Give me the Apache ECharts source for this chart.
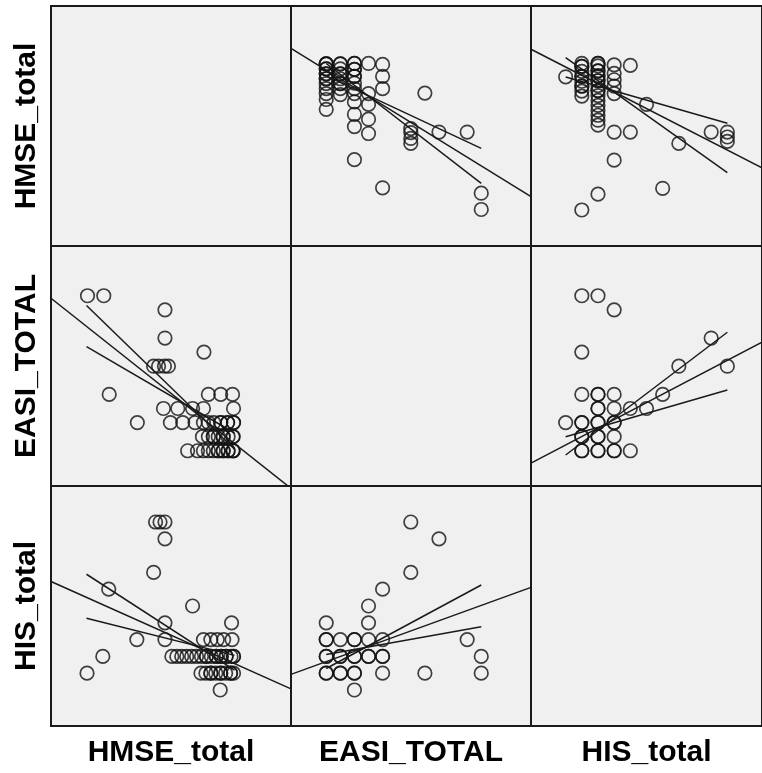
<!DOCTYPE html>
<html>
<head>
<meta charset="utf-8">
<script src="https://cdn.jsdelivr.net/npm/echarts@6/dist/echarts.min.js"></script>
<style>
html,body{margin:0;padding:0;background:#fff;}
#chart{width:762px;height:773px;}
</style>
</head>
<body>
<div id="chart"></div>
<script>
// Variable names (row / column labels)
const variables = ['HMSE_total', 'EASI_TOTAL', 'HIS_total'];
// Axis extents for each variable (no ticks shown)
const axisMin = [-7.2, -2.5, -2.143];
const axisMax = [41.45, 14.53, 12.143];

// Pair data: [HMSE_total, EASI_TOTAL]
const pairsHmseEasi = [
  [20.5,0],[22.5,0],[23.7,0],[24.7,0],[25.7,0],[26.7,0],[26.7,0],[27.7,0],[27.7,0],[28.7,0],[28.7,0],[29.7,0],[29.7,0],[29.7,0],
  [23.5,1],[24.7,1],[25.7,1],[25.7,1],[26.7,1],[27.7,1],[27.7,1],[28.7,1],[29.7,1],[29.7,1],
  [10.3,2],[17,2],[19.5,2],[22,2],[23.7,2],[24.7,2],[25.8,2],[27.2,2],[27.2,2],[28.6,2],[28.6,2],[29.8,2],[29.8,2],
  [15.6,3],[18.5,3],[21.5,3],[23.7,3],[29.8,3],
  [4.6,4],[24.7,4],[27.2,4],[29.6,4],
  [13.6,6],[14.6,6],[15.8,6],[16.6,6],
  [23.8,7],
  [15.9,8],
  [15.9,10],
  [0.2,11],[3.5,11]
];
// Pair data: [HMSE_total, HIS_total]
const pairsHmseHis = [
  [27.1,0],
  [0.1,1],[23.2,1],[24.2,1],[25.2,1],[25.2,1],[26.2,1],[27.2,1],[27.2,1],[28.2,1],[29.2,1],[29.2,1],[29.8,1],
  [3.3,2],[17.3,2],[18.3,2],[19.3,2],[20.3,2],[21.3,2],[22.3,2],[23.3,2],[24.3,2],[24.3,2],[25.3,2],[26.3,2],[26.3,2],[27.3,2],[27.3,2],[28.3,2],[28.3,2],[29.3,2],[29.8,2],[29.8,2],
  [10.2,3],[15.9,3],[23.7,3],[25.2,3],[26.5,3],[27.8,3],[29.5,3],
  [15.9,4],[29.4,4],
  [21.5,5],
  [4.5,6],
  [13.6,7],
  [15.9,9],
  [14,10],[14.9,10],[15.9,10]
];
// Pair data: [EASI_TOTAL, HIS_total]
const pairsEasiHis = [
  [0,1],[0,1],[0,2],[0,2],[0,3],[0,3],[0,4],
  [1,1],[1,1],[1,2],[1,2],[1,3],
  [2,0],[2,1],[2,1],[2,2],[2,2],[2,3],[2,3],
  [3,2],[3,2],[3,3],[3,4],[3,5],
  [4,1],[4,2],[4,2],[4,3],[4,6],
  [6,7],[6,10],[7,1],[8,9],[10,3],[11,1],[11,2]
];

// Fit lines and confidence lines per panel, in data units [x, y]
// key "r-c": x = variable c, y = variable r
const fitLines = {
  '0-1': [[-2.5,32.88],[14.53,2.83]],
  '0-2': [[-2.143,32.69],[12.143,8.63]],
  '1-0': [[-7.2,10.82],[41.45,-2.67]],
  '1-2': [[-2.143,-0.875],[12.143,7.71]],
  '2-0': [[-7.2,6.46],[41.45,0.07]],
  '2-1': [[-2.5,0.93],[14.53,6.11]]
};
const ciLinesA = {
  '0-1': [[0,27.3],[11,12.6]],
  '0-2': [[0,30.97],[10,7.66]],
  '1-0': [[0,10.31],[30,0.11]],
  '1-2': [[0,-0.3],[10,8.41]],
  '2-0': [[0,6.89],[30,1.18]],
  '2-1': [[0,1.28],[11,6.25]]
};
const ciLinesB = {
  '0-1': [[0,29.8],[11,5.5]],
  '0-2': [[0,27.04],[10,17.67]],
  '1-0': [[0,7.39],[30,1.26]],
  '1-2': [[0,1.0],[10,4.31]],
  '2-0': [[0,4.27],[30,2.06]],
  '2-1': [[0,2.11],[11,3.77]]
};

const pairSets = {'0-1': pairsHmseEasi, '0-2': pairsHmseHis, '1-2': pairsEasiHis};

const cell = 240, left0 = 51, top0 = 6;
const labelStyle = {fontSize: 30, fontWeight: 'bold', fontFamily: 'Liberation Sans, Arial, sans-serif', color: '#000'};

const grids = [], xAxes = [], yAxes = [], series = [];
for (let r = 0; r < 3; r++) {
  for (let c = 0; c < 3; c++) {
    const idx = r * 3 + c;
    grids.push({left: left0 + c * cell, top: top0 + r * cell, width: cell, height: cell,
      show: true, backgroundColor: '#F0F0F0', borderColor: '#1a1a1a', borderWidth: 2});
    xAxes.push({gridIndex: idx, type: 'value', min: axisMin[c], max: axisMax[c], show: r === 2,
      axisLine: {show: false}, axisTick: {show: false}, axisLabel: {show: false}, splitLine: {show: false},
      name: r === 2 ? variables[c] : '', nameLocation: 'middle', nameGap: 12, nameTextStyle: labelStyle});
    yAxes.push({gridIndex: idx, type: 'value', min: axisMin[r], max: axisMax[r], show: c === 0,
      axisLine: {show: false}, axisTick: {show: false}, axisLabel: {show: false}, splitLine: {show: false},
      name: c === 0 ? variables[r] : '', nameLocation: 'middle', nameGap: 9, nameTextStyle: labelStyle});
    if (r === c) continue;
    const key = r + '-' + c;
    const lo = Math.min(r, c), hi = Math.max(r, c);
    const set = pairSets[lo + '-' + hi];
    const pts = set.map(p => c > r ? [p[1], p[0]] : [p[0], p[1]]);
    series.push({type: 'scatter', xAxisIndex: idx, yAxisIndex: idx, data: pts, symbol: 'circle', symbolSize: 13.5,
      itemStyle: {color: 'rgba(0,0,0,0)', borderColor: '#111', borderWidth: 1.7}, silent: true, z: 2});
    [fitLines[key], ciLinesA[key], ciLinesB[key]].forEach(ln => {
      series.push({type: 'line', xAxisIndex: idx, yAxisIndex: idx, data: ln, symbol: 'none', clip: true,
        lineStyle: {color: '#1a1a1a', width: 1.5}, silent: true, z: 3});
    });
  }
}

const chart = echarts.init(document.getElementById('chart'), null, {renderer: 'canvas'});
chart.setOption({animation: false, backgroundColor: '#ffffff', grid: grids, xAxis: xAxes, yAxis: yAxes, series: series});
</script>
</body>
</html>
